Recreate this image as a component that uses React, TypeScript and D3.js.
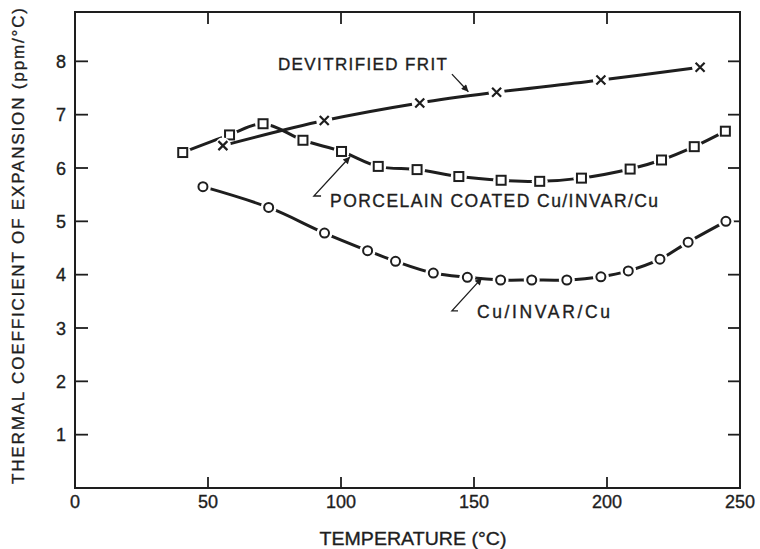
import React from "react";
import * as d3 from "d3";

// temperature (°C) / coefficient (ppm/°C)
const fritTemp = [55.6, 93.7, 129.6, 158.5, 197.7, 235];
const fritVal = [6.42, 6.89, 7.22, 7.42, 7.65, 7.89];

const porcTemp = [40.5, 58.1, 70.7, 85.7, 100.2, 114, 128.6, 144.3, 160.2, 174.7, 190.4, 208.7, 220.5, 232.8, 244.5];
const porcVal = [6.29, 6.62, 6.83, 6.52, 6.31, 6.03, 5.97, 5.84, 5.77, 5.75, 5.81, 5.98, 6.15, 6.4, 6.69];

const cuTemp = [48.1, 72.8, 93.8, 110, 120.5, 134.7, 147.5, 160, 171.7, 184.9, 197.7, 208, 219.9, 230.5, 244.7];
const cuVal = [5.65, 5.26, 4.78, 4.45, 4.25, 4.03, 3.95, 3.9, 3.9, 3.9, 3.96, 4.07, 4.29, 4.61, 5.0];

const xTicks = [0, 50, 100, 150, 200, 250];
const yTicks = [1, 2, 3, 4, 5, 6, 7, 8];

const W = 760;
const H = 549;
const INK = "#1e1e1e";
const FONT = "'Liberation Sans', Arial, sans-serif";

const zip = (xs: number[], ys: number[]) => xs.map((t, i) => ({ t, v: ys[i] }));

// slightly heavier lettering, like the inked original
const txt = { fontFamily: FONT, fill: INK, stroke: INK, strokeWidth: 0.35 };

const Marker = ({ kind, cx, cy }: { kind: string; cx: number; cy: number }) => {
    if (kind === "square")
        return <rect x={cx - 4.5} y={cy - 4.5} width={9} height={9} fill="white" stroke={INK} strokeWidth={2} />;
    if (kind === "circle") return <circle cx={cx} cy={cy} r={4.5} fill="white" stroke={INK} strokeWidth={2} />;
    return (
        <path
            d={`M${cx - 4.5},${cy - 4.5}L${cx + 4.5},${cy + 4.5}M${cx - 4.5},${cy + 4.5}L${cx + 4.5},${cy - 4.5}`}
            stroke={INK}
            strokeWidth={2.2}
        />
    );
};

export default function App() {
    const x = d3.scaleLinear().domain([0, 250]).range([75, 740]);
    const y = d3.scaleLinear().domain([0, 8.925]).range([488, 12]);

    const line = d3
        .line<{ t: number; v: number }>()
        .x(d => x(d.t))
        .y(d => y(d.v))
        .curve(d3.curveCatmullRom.alpha(0.5));

    const series = [
        { kind: "square", data: zip(porcTemp, porcVal) },
        { kind: "circle", data: zip(cuTemp, cuVal) },
        { kind: "cross", data: zip(fritTemp, fritVal) },
    ];

    const [x0, x1] = x.range();
    const [y0, y1] = y.range();

    const leader = (pts: [number, number][]) => pts.map(([t, v]) => `${x(t)},${y(v)}`).join(" ");

    return (
        <div style={{ position: "absolute", left: 0, top: 0 }}>
            <svg width={W} height={H} style={{ display: "block", background: "white" }}>
                <defs>
                    <marker id="ah" viewBox="0 0 10 10" refX="10" refY="5" markerWidth="11" markerHeight="7" markerUnits="userSpaceOnUse" orient="auto">
                        <path d="M0,0L10,5L0,10Z" fill={INK} />
                    </marker>
                </defs>

                {/* frame */}
                <rect x={x0} y={y1} width={x1 - x0} height={y0 - y1} fill="none" stroke={INK} strokeWidth={2} />

                {/* ticks, all pointing inward */}
                {xTicks.slice(1, -1).map(t => (
                    <g key={"xt" + t} stroke={INK} strokeWidth={1.8}>
                        <line x1={x(t)} x2={x(t)} y1={y0} y2={y0 - 11} />
                        <line x1={x(t)} x2={x(t)} y1={y1} y2={y1 + 12} />
                    </g>
                ))}
                {yTicks.map(v => (
                    <g key={"yt" + v} stroke={INK} strokeWidth={1.8}>
                        <line x1={x0} x2={x0 + 13} y1={y(v)} y2={y(v)} />
                        <line x1={x1} x2={x1 - 12} y1={y(v)} y2={y(v)} />
                    </g>
                ))}

                {/* tick labels */}
                {xTicks.map(t => (
                    <text key={"xl" + t} x={x(t)} y={508} textAnchor="middle" fontSize={18} {...txt}>
                        {t}
                    </text>
                ))}
                {yTicks.map(v => (
                    <text key={"yl" + v} x={66} y={y(v) + 6.5} textAnchor="end" fontSize={18} {...txt}>
                        {v}
                    </text>
                ))}

                {/* axis titles */}
                <text x={413} y={545} textAnchor="middle" fontSize={19} textLength={187} lengthAdjust="spacingAndGlyphs" {...txt}>
                    TEMPERATURE (°C)
                </text>
                <text
                    transform="translate(24,246) rotate(-90)"
                    textAnchor="middle"
                    fontSize={17}
                    textLength={476}
                    lengthAdjust="spacing"
                    {...txt}
                >
                    THERMAL COEFFICIENT OF EXPANSION (ppm/°C)
                </text>

                {/* series: line, white gaps around points, then the points */}
                {series.map(s => (
                    <g key={s.kind}>
                        <path d={line(s.data) || ""} fill="none" stroke={INK} strokeWidth={3} />
                        {s.data.map((d, i) => (
                            <circle key={i} cx={x(d.t)} cy={y(d.v)} r={8} fill="white" />
                        ))}
                        {s.data.map((d, i) => (
                            <Marker key={i} kind={s.kind} cx={x(d.t)} cy={y(d.v)} />
                        ))}
                    </g>
                ))}

                {/* annotations */}
                <text x={x(76.3)} y={y(7.84)} fontSize={17} textLength={169} lengthAdjust="spacing" {...txt}>
                    DEVITRIFIED FRIT
                </text>
                <polyline points={leader([[141.7, 7.76], [147.9, 7.43]])} fill="none" stroke={INK} strokeWidth={1.3} markerEnd="url(#ah)" />

                <text x={x(95.9)} y={y(5.27)} fontSize={17.5} textLength={328} lengthAdjust="spacing" {...txt}>
                    PORCELAIN COATED Cu/INVAR/Cu
                </text>
                <polyline points={leader([[92.5, 5.475], [89.8, 5.475], [103.4, 6.21]])} fill="none" stroke={INK} strokeWidth={1.3} markerEnd="url(#ah)" />

                <text x={x(151.1)} y={y(3.19)} fontSize={17.5} textLength={133} lengthAdjust="spacing" {...txt}>
                    Cu/INVAR/Cu
                </text>
                <polyline points={leader([[144, 3.32], [141.7, 3.32], [153, 3.94]])} fill="none" stroke={INK} strokeWidth={1.3} markerEnd="url(#ah)" />
            </svg>
        </div>
    );
}
